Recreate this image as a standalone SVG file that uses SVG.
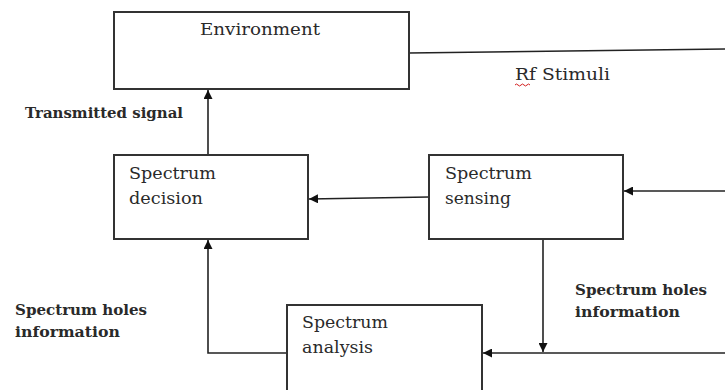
<svg xmlns="http://www.w3.org/2000/svg" width="725" height="390" viewBox="0 0 725 390">
  <style>
    .box { fill: #ffffff; stroke: #333333; stroke-width: 2; }
    .wire { fill: none; stroke: #222222; stroke-width: 1.6; }
    .name { font-family: "DejaVu Serif", "Liberation Serif", serif; font-size: 16.5px; fill: #2a2a2a; }
    .note { font-family: "DejaVu Serif", "Liberation Serif", serif; font-size: 14.5px; font-weight: bold; fill: #2a2a2a; }
  </style>
  <defs>
    <marker id="head" viewBox="0 0 10 10" refX="10" refY="5" markerWidth="9" markerHeight="9" markerUnits="userSpaceOnUse" orient="auto">
      <path d="M0,0 L10,5 L0,10 Z" fill="#111111"/>
    </marker>
  </defs>
  <rect width="725" height="390" fill="#ffffff"/>

  <g id="connectors">
    <!-- RF stimuli line leaving the environment -->
    <path class="wire" d="M409,53 L725,49"/>
    <!-- decision to environment -->
    <path class="wire" d="M208,155 L208,90" marker-end="url(#head)"/>
    <!-- sensing to decision -->
    <path class="wire" d="M429,197 L309,199" marker-end="url(#head)"/>
    <!-- incoming to sensing -->
    <path class="wire" d="M725,191 L624,191" marker-end="url(#head)"/>
    <!-- sensing down to analysis feed -->
    <path class="wire" d="M543,239 L543,352" marker-end="url(#head)"/>
    <!-- incoming to analysis -->
    <path class="wire" d="M725,353 L483,353" marker-end="url(#head)"/>
    <!-- analysis back to decision -->
    <path class="wire" d="M287,353 L208,353 L208,240" marker-end="url(#head)"/>
  </g>

  <g id="environment">
    <rect class="box" x="114" y="12" width="295" height="77"/>
    <text class="name" x="200" y="35" textLength="120" lengthAdjust="spacingAndGlyphs">Environment</text>
  </g>

  <g id="spectrum-decision">
    <rect class="box" x="114" y="155" width="194" height="84"/>
    <text class="name" x="129" y="179" textLength="87" lengthAdjust="spacingAndGlyphs">Spectrum</text>
    <text class="name" x="129" y="204" textLength="74" lengthAdjust="spacingAndGlyphs">decision</text>
  </g>

  <g id="spectrum-sensing">
    <rect class="box" x="429" y="155" width="194" height="84"/>
    <text class="name" x="445" y="179" textLength="87" lengthAdjust="spacingAndGlyphs">Spectrum</text>
    <text class="name" x="445" y="204" textLength="66" lengthAdjust="spacingAndGlyphs">sensing</text>
  </g>

  <g id="spectrum-analysis">
    <rect class="box" x="287" y="305" width="195" height="100"/>
    <text class="name" x="302" y="328" textLength="86" lengthAdjust="spacingAndGlyphs">Spectrum</text>
    <text class="name" x="302" y="353" textLength="71" lengthAdjust="spacingAndGlyphs">analysis</text>
  </g>

  <g id="labels">
    <text class="name" x="515" y="80" textLength="95" lengthAdjust="spacingAndGlyphs">Rf Stimuli</text>
    <path d="M515,85 q1.5,-2 3,0 t3,0 t3,0 t3,0 t3,0" fill="none" stroke="#d42020" stroke-width="1"/>
    <text class="note" x="25" y="118" textLength="158" lengthAdjust="spacingAndGlyphs">Transmitted signal</text>
    <text class="note" x="15" y="315" textLength="132" lengthAdjust="spacingAndGlyphs">Spectrum holes</text>
    <text class="note" x="15" y="337" textLength="105" lengthAdjust="spacingAndGlyphs">information</text>
    <text class="note" x="575" y="295" textLength="132" lengthAdjust="spacingAndGlyphs">Spectrum holes</text>
    <text class="note" x="575" y="317" textLength="105" lengthAdjust="spacingAndGlyphs">information</text>
  </g>
</svg>
